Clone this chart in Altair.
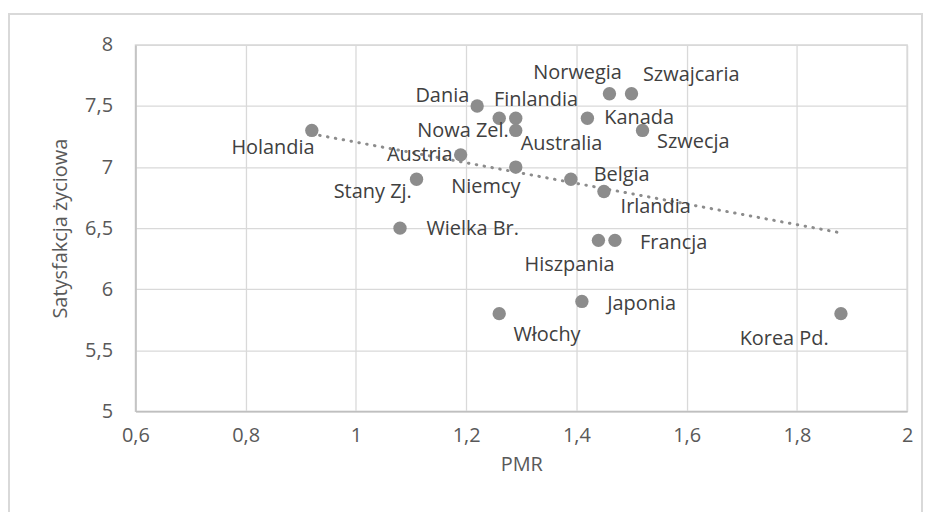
import altair as alt
import pandas as pd

# ---- data ----
kraje = ["Holandia", "Dania", "Finlandia", "Australia", "Nowa Zel.", "Austria",
         "Stany Zj.", "Niemcy", "Norwegia", "Szwajcaria", "Kanada", "Szwecja",
         "Belgia", "Irlandia", "Wielka Br.", "Hiszpania", "Francja", "Japonia",
         "Włochy", "Korea Pd."]
pmr = [0.92, 1.22, 1.26, 1.29, 1.29, 1.19, 1.11, 1.29, 1.46, 1.50, 1.42, 1.52,
       1.39, 1.45, 1.08, 1.44, 1.47, 1.41, 1.26, 1.88]
satysfakcja = [7.3, 7.5, 7.4, 7.4, 7.3, 7.1, 6.9, 7.0, 7.6, 7.6, 7.4, 7.3,
               6.9, 6.8, 6.5, 6.4, 6.4, 5.9, 5.8, 5.8]
x_ticks = [0.6, 0.8, 1.0, 1.2, 1.4, 1.6, 1.8, 2.0]
y_ticks = [5, 5.5, 6, 6.5, 7, 7.5, 8]

# label placement (pixel offsets from each point) - styling only
label_offsets = {
    "Holandia": (-39, 18), "Dania": (-35, -10), "Finlandia": (37, -18),
    "Australia": (46, 26), "Nowa Zel.": (-53, 1), "Austria": (-41, 0),
    "Stany Zj.": (-44, 13), "Niemcy": (-30, 20), "Norwegia": (-32, -21),
    "Szwajcaria": (60, -19), "Kanada": (52, 0), "Szwecja": (51, 12),
    "Belgia": (51, -4), "Irlandia": (52, 16), "Wielka Br.": (73, 1),
    "Hiszpania": (-29, 25), "Francja": (59, 3), "Japonia": (60, 3),
    "Włochy": (48, 21), "Korea Pd.": (-57, 26),
}

df = pd.DataFrame({"kraj": kraje, "pmr": pmr, "sat": satysfakcja})

FONT = "Open Sans"
PT_COLOR = "#8c8c8c"

x_enc = alt.X("pmr:Q", title="PMR",
              scale=alt.Scale(domain=[0.6, 2.0], nice=False, zero=False),
              axis=alt.Axis(values=x_ticks,
                            labelExpr="replace(format(datum.value, '.1~f'), '.', ',')",
                            ticks=False, labelPadding=14, titlePadding=9,
                            labelFlush=False,
                            domainColor="#bfbfbf", domainWidth=1.5))
y_enc = alt.Y("sat:Q", title="Satysfakcja życiowa",
              scale=alt.Scale(domain=[5, 8], nice=False, zero=False),
              axis=alt.Axis(values=y_ticks,
                            labelExpr="replace(format(datum.value, '.1~f'), '.', ',')",
                            ticks=False, labelPadding=23, titlePadding=14,
                            labelFlush=False,
                            domainColor="#bfbfbf", domainWidth=1.5))

base = alt.Chart(df)

border = alt.Chart(pd.DataFrame({"a": [0]})).mark_rect(
    fillOpacity=0, stroke="#d9d9d9", strokeWidth=2
).encode(x=alt.value(-127), x2=alt.value(790), y=alt.value(-31), y2=alt.value(520))

trend = base.transform_regression("pmr", "sat", method="linear").mark_line(
    color=PT_COLOR, strokeWidth=3, strokeDash=[0.5, 7.5], strokeCap="round"
).encode(x=x_enc, y=y_enc)

points = base.mark_circle(size=180, color=PT_COLOR, opacity=1).encode(x=x_enc, y=y_enc)

labels = []
for name in kraje:
    dx, dy = label_offsets[name]
    labels.append(
        base.transform_filter(alt.datum.kraj == name).mark_text(
            dx=dx, dy=dy, align="center", baseline="middle",
            font=FONT, fontSize=20, color="#404040"
        ).encode(x="pmr:Q", y="sat:Q", text="kraj:N")
    )

chart = alt.layer(border, trend, points, *labels).properties(
    width=775, height=368,
    autosize=alt.AutoSizeParams(type="none"),
    padding={"left": 128, "top": 36, "right": 20, "bottom": 100},
).configure_view(
    stroke="#d9d9d9", strokeWidth=1.5
).configure_axis(
    gridColor="#d9d9d9", gridWidth=1.3,
    labelFont=FONT, labelFontSize=20, labelColor="#595959",
    titleFont=FONT, titleFontSize=20, titleColor="#595959", titleFontWeight="normal",
)

chart.save("out.html", embed_options={"renderer": "svg", "actions": False})
